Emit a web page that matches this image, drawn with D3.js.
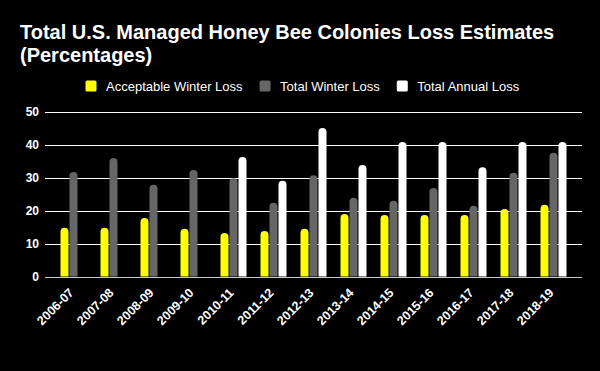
<!DOCTYPE html>
<meta charset="utf-8"/>
<html>
<head>
<script src="https://d3js.org/d3.v7.min.js"></script>
<style>
 * { margin: 0; padding: 0; }
 body { background: #000; }
 svg { display: block; font-family: Arial, "Liberation Sans", sans-serif; }
</style>
</head>
<body>
<div id="chart"></div>
<script>
// seasons on the x axis
var seasons = ["2006-07", "2007-08", "2008-09", "2009-10", "2010-11", "2011-12", "2012-13",
               "2013-14", "2014-15", "2015-16", "2016-17", "2017-18", "2018-19"];
var seriesNames = ["Acceptable Winter Loss", "Total Winter Loss", "Total Annual Loss"];
var seriesColors = ["#ffff00", "#666666", "#ffffff"];

// values (percent); null = no annual survey that year
var acceptableWinter = [14.8, 14.8, 17.8, 14.5, 13.2, 13.8, 14.5, 19.0, 18.7, 18.7, 18.7, 20.5, 21.8];
var totalWinter      = [31.8, 36.0, 27.9, 32.4, 29.9, 22.4, 30.8, 23.9, 23.0, 26.9, 21.5, 31.5, 37.6];
var totalAnnual      = [null, null, null, null, 36.3, 29.1, 45.1, 33.9, 40.9, 40.9, 33.2, 40.9, 40.9];
var yTicks = [0, 10, 20, 30, 40, 50];

var width = 600, height = 371;
var margin = {left: 45, right: 18, top: 112, bottom: 94.5};

var svg = d3.select("#chart").append("svg")
    .attr("width", width).attr("height", height);
svg.append("rect").attr("width", width).attr("height", height).attr("fill", "#000");

// title
svg.append("text").attr("x", 20).attr("y", 38.5)
    .attr("fill", "#fff").style("font-size", "20px").style("font-weight", "bold")
    .text("Total U.S. Managed Honey Bee Colonies Loss Estimates");
svg.append("text").attr("x", 20).attr("y", 62)
    .attr("fill", "#fff").style("font-size", "20px").style("font-weight", "bold")
    .text("(Percentages)");

// legend, laid out left to right
var lx = 85.5;
var legend = svg.append("g");
seriesNames.forEach(function (name, i) {
    legend.append("rect").attr("x", lx).attr("y", 80.5).attr("width", 11).attr("height", 11)
        .attr("rx", 1.5).attr("fill", seriesColors[i]);
    var t = legend.append("text").attr("x", lx + 20.5).attr("y", 90.5)
        .attr("fill", "#fff").style("font-size", "13px").text(name);
    lx += 20.5 + t.node().getComputedTextLength() + 17;
});

var x0 = margin.left, x1 = width - margin.right;
var y = d3.scaleLinear().domain([0, 50]).range([height - margin.bottom, margin.top]);
var x = d3.scaleBand().domain(seasons).range([x0, x1]).paddingInner(0).paddingOuter(0.2125);
var xs = d3.scaleBand().domain(seriesNames)
    .range([6.5, x.bandwidth() - 6.5]).paddingInner(1 / 9).paddingOuter(1 / 18);

// gridlines
svg.append("g").selectAll("line").data(yTicks).join("line")
    .attr("x1", x0).attr("x2", x1)
    .attr("y1", function (d) { return Math.round(y(d)) + 0.5; })
    .attr("y2", function (d) { return Math.round(y(d)) + 0.5; })
    .attr("stroke", function (d) { return d === 0 ? "#ccc" : "#fff"; })
    .attr("stroke-width", 1);

// y axis labels
var yAxis = svg.append("g").attr("transform", "translate(" + (x0 - 6) + ",0)")
    .call(d3.axisLeft(y).tickValues(yTicks).tickSize(0).tickPadding(0));
yAxis.select(".domain").remove();
yAxis.selectAll("text").attr("fill", "#fff")
    .style("font-size", "12px").style("font-weight", "bold")
    .style("font-family", "Arial, 'Liberation Sans', sans-serif");

// x axis labels, rotated
var xAxis = svg.append("g").attr("transform", "translate(0," + (height - margin.bottom) + ")")
    .call(d3.axisBottom(x).tickSize(0).tickPadding(0));
xAxis.select(".domain").remove();
xAxis.selectAll("text")
    .attr("fill", "#fff").style("font-size", "12.5px").style("font-weight", "bold")
    .style("font-family", "Arial, 'Liberation Sans', sans-serif")
    .attr("text-anchor", "end").attr("dy", null).attr("y", 0)
    .attr("transform", "translate(1,17) rotate(-45)");

// bars with rounded tops
function barPath(bx, top, bottom, w, r) {
    r = Math.min(r, (bottom - top), w / 2);
    return "M" + bx + "," + bottom +
        "V" + (top + r) +
        "A" + r + "," + r + " 0 0 1 " + (bx + r) + "," + top +
        "H" + (bx + w - r) +
        "A" + r + "," + r + " 0 0 1 " + (bx + w) + "," + (top + r) +
        "V" + bottom + "Z";
}

var rows = seasons.map(function (s, i) {
    return {season: s, values: [acceptableWinter[i], totalWinter[i], totalAnnual[i]]};
});

var groups = svg.append("g").selectAll("g").data(rows).join("g")
    .attr("transform", function (d) { return "translate(" + x(d.season) + ",0)"; });

groups.selectAll("path")
    .data(function (d) {
        return d.values.map(function (v, i) { return {name: seriesNames[i], value: v, i: i}; })
            .filter(function (e) { return e.value != null; });
    })
    .join("path")
    .attr("fill", function (d) { return seriesColors[d.i]; })
    .attr("d", function (d) {
        return barPath(xs(d.name), y(d.value), y(0), xs.bandwidth(), 4);
    });
</script>
</body>
</html>
